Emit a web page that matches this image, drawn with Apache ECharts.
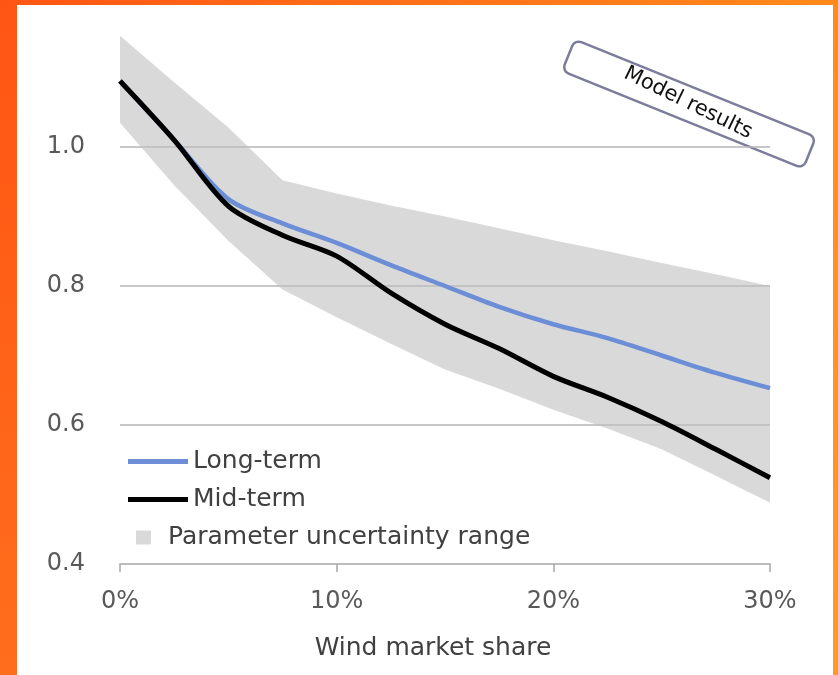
<!DOCTYPE html>
<html>
<head>
<meta charset="utf-8">
<script src="https://cdn.jsdelivr.net/npm/echarts@6/dist/echarts.min.js"></script>
<style>
  html, body { margin: 0; padding: 0; background: #fff; }
  #chart { width: 838px; height: 675px; }
</style>
</head>
<body>
<div id="chart"></div>
<script>
'use strict';
// wind market share (%)
const xShare = [0, 2.5, 5, 7.5, 10, 12.5, 15, 17.5, 20, 22.5, 25, 27.5, 30];
const longTerm = [1.095, 1.01, 0.925, 0.89, 0.862, 0.83, 0.80, 0.77, 0.745, 0.725, 0.70, 0.675, 0.653];
const midTerm = [1.095, 1.01, 0.915, 0.873, 0.843, 0.79, 0.745, 0.71, 0.67, 0.64, 0.605, 0.565, 0.524];
const bandUpper = [1.16, 1.093, 1.028, 0.952, 0.933, 0.916, 0.90, 0.883, 0.866, 0.85, 0.833, 0.817, 0.80];
const bandLower = [1.035, 0.945, 0.865, 0.795, 0.755, 0.717, 0.68, 0.652, 0.622, 0.595, 0.565, 0.527, 0.488];
const yTicks = [0.4, 0.6, 0.8, 1.0, 1.2];

const FONT = 'DejaVu Sans';
let pairs = (ys) => xShare.map((x, i) => [x, ys[i]]);

let myChart = echarts.init(document.getElementById('chart'));

// uncertainty band drawn as one polygon: upper edge left->right, lower edge back
function renderBand(params, api) {
    if (params.dataIndex !== 0) return;
    let pts = [];
    for (let i = 0; i < xShare.length; i++) pts.push(api.coord([xShare[i], bandUpper[i]]));
    for (let i = xShare.length - 1; i >= 0; i--) pts.push(api.coord([xShare[i], bandLower[i]]));
    return {
        type: 'polygon',
        shape: { points: pts },
        style: { fill: 'rgba(192,192,192,0.6)' }
    };
}

let option = {
    backgroundColor: '#ffffff',
    animation: false,
    grid: { left: 120, right: 68, top: 8, bottom: 111 },
    xAxis: {
        type: 'value',
        min: 0,
        max: 30,
        interval: 10,
        name: 'Wind market share',
        nameLocation: 'middle',
        nameGap: 72,
        nameTextStyle: { color: '#404040', fontFamily: FONT, fontSize: 25, padding: [0, 24, 0, 0] },
        axisLine: { lineStyle: { color: '#a6a6a6', width: 1.5 } },
        axisTick: { show: true, length: 8, lineStyle: { color: '#a6a6a6', width: 1.5 } },
        axisLabel: { formatter: '{value}%', color: '#595959', fontFamily: FONT, fontSize: 24, margin: 26 },
        splitLine: { show: false }
    },
    yAxis: {
        type: 'value',
        min: yTicks[0],
        max: yTicks[yTicks.length - 1],
        interval: 0.2,
        axisLine: { show: false },
        axisTick: { show: false },
        axisLabel: {
            showMaxLabel: false,
            formatter: (v) => v.toFixed(1),
            color: '#595959', fontFamily: FONT, fontSize: 24, margin: 35
        },
        splitLine: {
            showMinLine: false,
            showMaxLine: false,
            lineStyle: { color: '#b4b4b4', width: 1.5 }
        }
    },
    legend: [{
        data: [{ name: 'Long-term', icon: 'rect' }, { name: 'Mid-term', icon: 'rect' }],
        orient: 'vertical',
        left: 123,
        top: 444,
        itemWidth: 60,
        itemHeight: 5,
        itemGap: 13,
        selectedMode: false,
        textStyle: { color: '#404040', fontFamily: FONT, fontSize: 25 }
    }, {
        data: [{ name: 'Parameter uncertainty range', icon: 'rect' }],
        left: 131,
        top: 520,
        itemWidth: 15,
        itemHeight: 14,
        selectedMode: false,
        textStyle: { color: '#404040', fontFamily: FONT, fontSize: 25, padding: [0, 0, 0, 12] }
    }],
    series: [{
        name: 'Parameter uncertainty range',
        type: 'custom',
        renderItem: renderBand,
        itemStyle: { color: '#d9d9d9' },
        silent: true,
        data: pairs(bandUpper)
    }, {
        name: 'Long-term',
        type: 'line',
        symbol: 'none',
        smooth: 0.3,
        itemStyle: { color: '#6b8ed6' },
        lineStyle: { color: '#6b8ed6', width: 4.5 },
        data: pairs(longTerm)
    }, {
        name: 'Mid-term',
        type: 'line',
        symbol: 'none',
        smooth: 0.3,
        itemStyle: { color: '#000000' },
        lineStyle: { color: '#000000', width: 5 },
        data: pairs(midTerm)
    }],
    graphic: [{
        type: 'group',
        x: 689,
        y: 104,
        rotation: -22 * Math.PI / 180,
        children: [{
            type: 'rect',
            shape: { x: -130, y: -17, width: 260, height: 34, r: 7 },
            style: { fill: '#ffffff', stroke: '#7c7c9c', lineWidth: 2.5 }
        }]
    }, {
        type: 'text',
        x: 688,
        y: 103,
        rotation: -26 * Math.PI / 180,
        style: {
            text: 'Model results',
            fontFamily: FONT,
            fontSize: 21,
            fill: '#111111',
            align: 'center',
            verticalAlign: 'middle'
        }
    }, {
        type: 'rect',
        shape: { x: 0, y: 0, width: 17, height: 675 },
        style: { fill: new echarts.graphic.LinearGradient(0, 0, 0, 1, [
            { offset: 0, color: '#ff5514' }, { offset: 1, color: '#ff6e1c' }]) },
        z: 100
    }, {
        type: 'rect',
        shape: { x: 0, y: 0, width: 838, height: 5 },
        style: { fill: new echarts.graphic.LinearGradient(0, 0, 1, 0, [
            { offset: 0, color: '#ff5514' }, { offset: 1, color: '#ff8a1c' }]) },
        z: 100
    }, {
        type: 'rect',
        shape: { x: 833, y: 0, width: 5, height: 675 },
        style: { fill: new echarts.graphic.LinearGradient(0, 0, 0, 1, [
            { offset: 0, color: '#ff8a1c' }, { offset: 1, color: '#ff9a2a' }]) },
        z: 100
    }]
};

if (option && typeof option === 'object') {
    myChart.setOption(option, true);
}
</script>
</body>
</html>
